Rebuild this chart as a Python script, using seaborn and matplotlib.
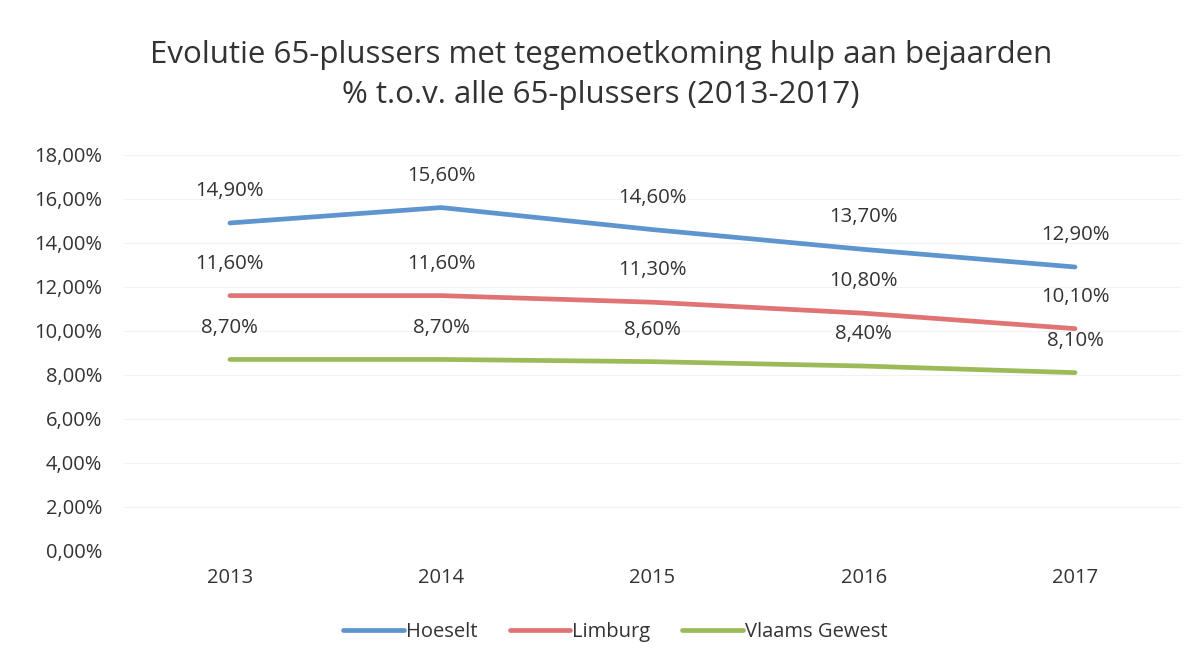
import matplotlib
matplotlib.use('Agg')
import matplotlib.pyplot as plt
import seaborn as sns
import pandas as pd

# ── Data ────────────────────────────────────────────────
YEARS    = ['2013', '2014', '2015', '2016', '2017']
HOESELT  = [14.9, 15.6, 14.6, 13.7, 12.9]
LIMBURG  = [11.6, 11.6, 11.3, 10.8, 10.1]
VLAAMS   = [8.7, 8.7, 8.6, 8.4, 8.1]
SERIES   = ['Hoeselt', 'Limburg', 'Vlaams Gewest']

COLORS = {'Hoeselt': '#5e95cf', 'Limburg': '#e07474', 'Vlaams Gewest': '#9bbb59'}
TEXT   = '#333333'

sns.set_theme(style='white')
plt.rcParams['font.family'] = ['Open Sans', 'DejaVu Sans']

df = pd.DataFrame({
    'Jaar': YEARS * 3,
    'Waarde': HOESELT + LIMBURG + VLAAMS,
    'Reeks': [s for s in SERIES for _ in YEARS],
})

fig = plt.figure(figsize=(11.95, 6.67), dpi=100)
ax = fig.add_axes([0.104, 0.174, 0.884, 0.594])

sns.lineplot(data=df, x='Jaar', y='Waarde', hue='Reeks', palette=COLORS,
             linewidth=3.4, ax=ax, legend=True, sort=False)

# data labels above each point
for i, yr in enumerate(YEARS):
    for vals in (HOESELT, LIMBURG, VLAAMS):
        ax.annotate(f'{vals[i]:.2f}%'.replace('.', ','), (i, vals[i]),
                    xytext=(0, 23), textcoords='offset points',
                    ha='center', va='center', fontsize=14.7, color=TEXT)

ax.set_xlim(-0.5, len(YEARS) - 0.5)
ax.set_ylim(0, 18)
ax.set_yticks(range(0, 19, 2))
ax.yaxis.set_major_formatter(plt.FuncFormatter(lambda v, _: f'{v:.2f}%'.replace('.', ',')))
ax.grid(axis='y', color='#f2f2f2', linewidth=0.8)
ax.tick_params(axis='both', labelsize=14.5, colors=TEXT, length=0)
ax.tick_params(axis='y', pad=16)
ax.tick_params(axis='x', pad=12)
for s in ax.spines.values():
    s.set_visible(False)
ax.set_xlabel('')
ax.set_ylabel('')

fig.suptitle('Evolutie 65-plussers met tegemoetkoming hulp aan bejaarden\n'
             '% t.o.v. alle 65-plussers (2013-2017)',
             x=0.503, y=0.94, fontsize=22.5, color=TEXT, linespacing=1.45)

handles, labels = ax.get_legend_handles_labels()
ax.legend_.remove()
fig.legend(handles, labels, loc='center', bbox_to_anchor=(0.515, 0.052), ncol=3,
           frameon=False, fontsize=14.5, handlelength=3.0, handletextpad=0.1,
           columnspacing=1.6, labelcolor=TEXT)

fig.savefig('out.png', dpi=100, facecolor='white')
